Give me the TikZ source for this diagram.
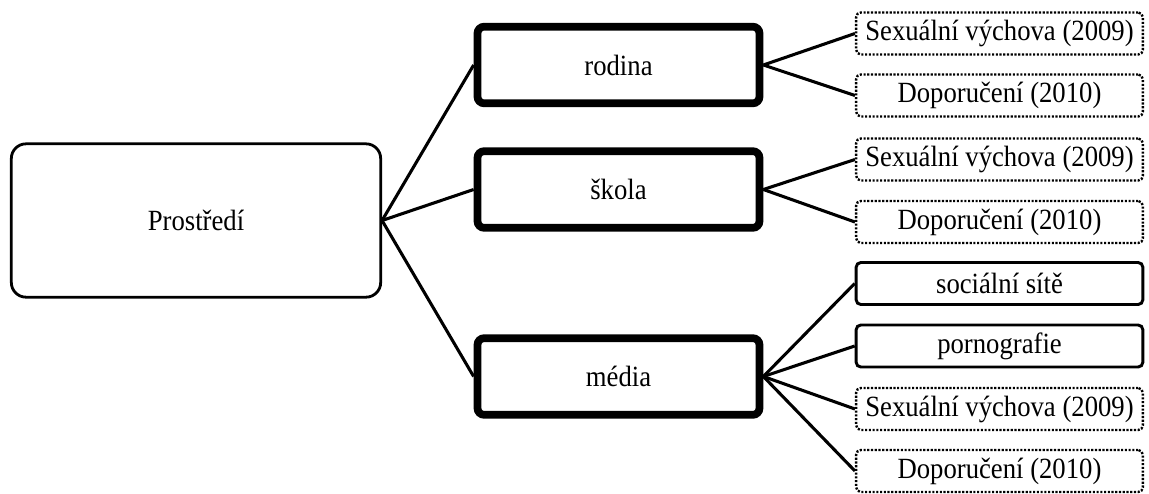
\documentclass[tikz,border=0pt]{standalone}
\usepackage{fontspec}
\setmainfont{Liberation Serif}[FakeStretch=0.91]
\begin{document}
\begin{tikzpicture}[x=0.75pt,y=-0.75pt,
  every node/.style={font=\fontsize{22}{26}\selectfont, inner sep=0pt, align=center},
  rootbox/.style={draw, line width=2.1pt, rounded corners=11pt, minimum width=277pt, minimum height=115pt},
  midbox/.style={draw, line width=5.8pt, rounded corners=5pt, minimum width=211.5pt, minimum height=57.5pt},
  leafbox/.style={draw, line width=2.2pt, rounded corners=3.5pt, minimum width=215pt, minimum height=31.5pt},
  dotbox/.style={leafbox, line width=1.8pt, dash pattern=on 1.6pt off 1.2pt},
  conn/.style={line width=2.3pt}]
\useasboundingbox (0,0) rectangle (1149,493);
\node[rootbox] (root) at (196,220.5) {Prostředí};
\node[midbox] (rodina) at (618.5,65) {rodina};
\node[midbox] (skola) at (618.5,189.5) {škola};
\node[midbox] (media) at (618.5,376.5) {média};
\node[dotbox] (r1) at (999.5,33.5) {Sexuální výchova (2009)};
\node[dotbox] (r2) at (999.5,95.5) {Doporučení (2010)};
\node[dotbox] (s1) at (999.5,159.5) {Sexuální výchova (2009)};
\node[dotbox] (s2) at (999.5,222) {Doporučení (2010)};
\node[leafbox] (m1) at (999.5,283.5) {sociální sítě};
\node[leafbox] (m2) at (999.5,346) {pornografie};
\node[dotbox] (m3) at (999.5,409) {Sexuální výchova (2009)};
\node[dotbox] (m4) at (999.5,471) {Doporučení (2010)};
\draw[conn] (root.east) -- (rodina.west);
\draw[conn] (root.east) -- (skola.west);
\draw[conn] (root.east) -- (media.west);
\draw[conn] (rodina.east) -- (r1.west);
\draw[conn] (rodina.east) -- (r2.west);
\draw[conn] (skola.east) -- (s1.west);
\draw[conn] (skola.east) -- (s2.west);
\draw[conn] (media.east) -- (m1.west);
\draw[conn] (media.east) -- (m2.west);
\draw[conn] (media.east) -- (m3.west);
\draw[conn] (media.east) -- (m4.west);
\end{tikzpicture}
\end{document}
